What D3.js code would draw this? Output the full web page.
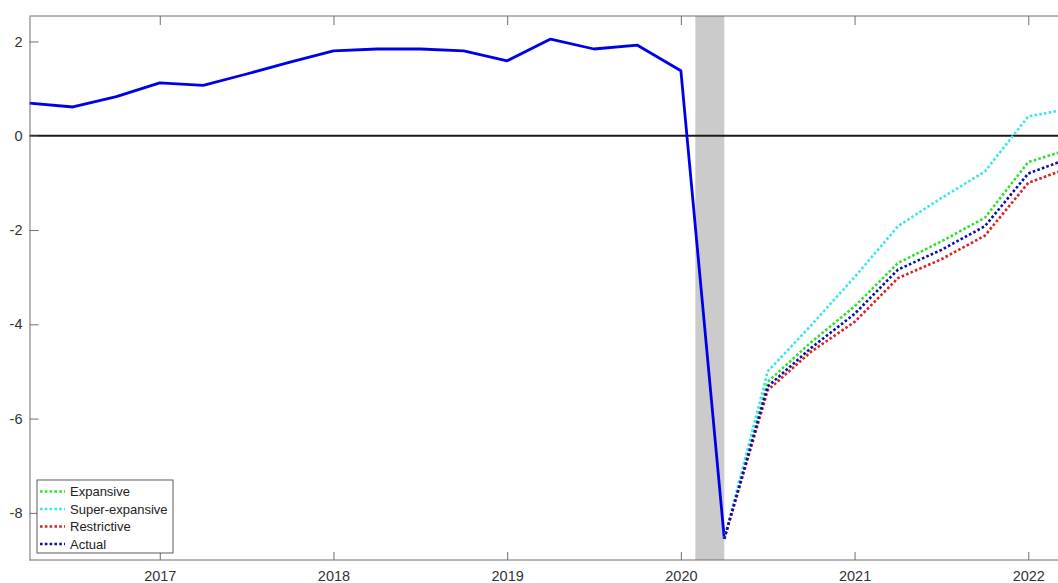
<!DOCTYPE html>
<html>
<head>
<meta charset="utf-8">
<script src="https://cdn.jsdelivr.net/npm/d3@7/dist/d3.min.js"></script>
<style>
  html, body { margin: 0; padding: 0; background: #fff; overflow: hidden; }
  svg { display: block; }
  text { font-family: "Liberation Sans", Arial, Helvetica, sans-serif; }
</style>
</head>
<body>
<svg id="chart" width="1058" height="583"></svg>
<script>
// Quarterly dates (decimal years) of the observed series
const histDates = [2016.25, 2016.5, 2016.75, 2017.0, 2017.25, 2017.5, 2017.75,
  2018.0, 2018.25, 2018.5, 2018.75, 2019.0, 2019.25, 2019.5, 2019.75, 2020.0, 2020.25];
const histValues = [0.69, 0.61, 0.83, 1.12, 1.07, 1.31, 1.56,
  1.80, 1.84, 1.84, 1.80, 1.59, 2.05, 1.84, 1.92, 1.38, -8.55];

// Scenario paths, starting from the 2020Q2 trough
const scenDates = [2020.25, 2020.5, 2020.75, 2021.0, 2021.25, 2021.5, 2021.75, 2022.0, 2022.25];
const expansive      = [-8.55, -5.22, -4.38, -3.62, -2.70, -2.24, -1.74, -0.56, -0.27];
const superExpansive = [-8.55, -5.00, -4.02, -3.00, -1.92, -1.32, -0.76, 0.41, 0.58];
const restrictive    = [-8.55, -5.40, -4.58, -3.95, -3.02, -2.62, -2.12, -1.00, -0.66];
const actual         = [-8.55, -5.32, -4.50, -3.78, -2.84, -2.42, -1.92, -0.80, -0.46];

const scenarioNames = ["Expansive", "Super-expansive", "Restrictive", "Actual"];
const scenarioColors = ["#2ee02e", "#38e8e8", "#d92222", "#0c0cb0"];

// Shaded lockdown window
const shadeStart = 2020.083;
const shadeEnd = 2020.25;

const yearTicks = [2017, 2018, 2019, 2020, 2021, 2022];
const yTicks = [-8, -6, -4, -2, 0, 2];

const svg = d3.select("#chart");
const plotLeft = 29.5, plotTop = 16, plotBottom = 560, plotRight = 1060;

const x = d3.scaleLinear().domain([2016.25, 2022.25]).range([plotLeft, plotLeft + 6 * 173.7]);
const y = d3.scaleLinear().domain([-9, 2.54]).range([plotBottom, plotTop]);

// shaded band
svg.append("rect")
  .attr("x", x(shadeStart))
  .attr("y", plotTop)
  .attr("width", x(shadeEnd) - x(shadeStart))
  .attr("height", plotBottom - plotTop)
  .attr("fill", "#cbcbcb");

// zero line
svg.append("line")
  .attr("x1", plotLeft).attr("x2", plotRight)
  .attr("y1", y(0)).attr("y2", y(0))
  .attr("stroke", "#1a1a1a").attr("stroke-width", 1.8);

const line = d3.line().x(d => x(d[0])).y(d => y(d[1]));

// observed series
svg.append("path")
  .datum(histDates.map((d, i) => [d, histValues[i]]))
  .attr("d", line)
  .attr("fill", "none")
  .attr("stroke", "#0000e6")
  .attr("stroke-width", 2.8)
  .attr("stroke-linejoin", "round");

// scenario paths
const scenarios = [expansive, superExpansive, restrictive, actual];
scenarios.forEach((vals, k) => {
  svg.append("path")
    .datum(scenDates.map((d, i) => [d, vals[i]]))
    .attr("d", line)
    .attr("fill", "none")
    .attr("stroke", scenarioColors[k])
    .attr("stroke-width", 2.6)
    .attr("stroke-dasharray", "2.6,2.2");
});

// axes frame
const axisColor = "#6e6e6e";
const textColor = "#333";

const xAxisBottom = d3.axisBottom(x).tickValues(yearTicks).tickFormat(d3.format("d"))
  .tickSizeInner(-8).tickSizeOuter(0).tickPadding(10.5);
const gx = svg.append("g").attr("transform", `translate(0,${plotBottom})`).call(xAxisBottom);
gx.select(".domain").attr("d", `M${plotLeft},0H${plotRight}`);

const xAxisTop = d3.axisTop(x).tickValues(yearTicks).tickFormat("")
  .tickSizeInner(-9).tickSizeOuter(0);
const gxt = svg.append("g").attr("transform", `translate(0,${plotTop})`).call(xAxisTop);
gxt.select(".domain").attr("d", `M${plotLeft},0H${plotRight}`);

const yAxis = d3.axisLeft(y).tickValues(yTicks).tickFormat(d3.format("d"))
  .tickSizeInner(-9).tickSizeOuter(0).tickPadding(7);
const gy = svg.append("g").attr("transform", `translate(${plotLeft},0)`).call(yAxis);

[gx, gxt, gy].forEach(g => {
  g.selectAll(".domain").attr("stroke", axisColor).attr("stroke-width", 1);
  g.selectAll(".tick line").attr("stroke", axisColor).attr("stroke-width", 1);
  g.selectAll(".tick text").attr("fill", textColor).style("font-size", "14.5px")
    .style("font-family", "'Liberation Sans', Arial, sans-serif");
});
gy.selectAll(".tick text").attr("x", -7).text(d => d < 0 ? "-" + Math.abs(d) : d);

// legend
const lg = svg.append("g").attr("transform", "translate(37,480)");
lg.append("rect")
  .attr("x", 0).attr("y", 0).attr("width", 136).attr("height", 73)
  .attr("fill", "#fff").attr("stroke", "#333").attr("stroke-width", 0.8);
scenarioNames.forEach((name, i) => {
  const cy = 11.5 + i * 17.5;
  lg.append("line")
    .attr("x1", 3).attr("x2", 28).attr("y1", cy).attr("y2", cy)
    .attr("stroke", scenarioColors[i]).attr("stroke-width", 2.6)
    .attr("stroke-dasharray", "2.6,2.2");
  lg.append("text")
    .attr("x", 33).attr("y", cy).attr("dy", "0.35em")
    .attr("fill", "#222")
    .style("font-size", "13px")
    .text(name);
});
</script>
</body>
</html>
